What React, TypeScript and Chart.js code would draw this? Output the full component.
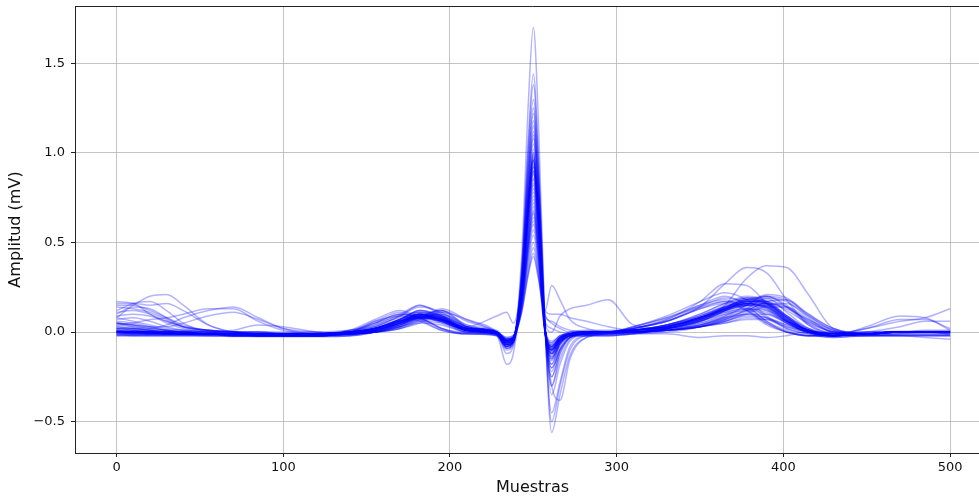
import React, { useEffect, useRef } from "react";
import { Chart, registerables } from "chart.js";

Chart.register(...registerables);

const sampleX = [0, 10, 20, 30, 40, 55, 70, 85, 100, 120, 140, 155, 170, 182, 195, 210, 228, 234, 238, 243, 247, 250, 253, 257, 261, 266, 272, 282, 295, 310, 330, 350, 365, 378, 390, 402, 415, 430, 450, 470, 485, 500];

// Amplitude (mV) of each beat at the sample positions above
const beat01 = [0.05,0.04,0.02,0.01,0.0,-0.01,-0.01,-0.01,-0.01,-0.01, -0.01,0.01,0.05,0.09,0.05,0.0, -0.01,-0.08,-0.05, 0.42,1.28,1.70,1.19, 0.04,-0.45,-0.28,-0.08,-0.02,-0.01, -0.01,0.0,0.03,0.08,0.13,0.11,0.05,0.0,-0.02, -0.01,0.0,0.0,0.0];
const beat02 = [0.0,0.0,-0.01,-0.01,-0.01,-0.01,-0.02,-0.02,-0.02,-0.02, 0.0,0.05,0.10,0.08,0.02,-0.01, -0.02,-0.10,-0.07, 0.36,1.08,1.44,1.0, 0.03,-0.56,-0.35,-0.13,-0.03,-0.01, 0.0,0.02,0.06,0.12,0.18,0.20,0.14,0.04,-0.01, -0.02,-0.01,0.0,-0.01];
const beat03 = [0.12,0.16,0.17,0.12,0.05,0.0,-0.01,-0.01,-0.01,-0.01, -0.01,0.0,0.04,0.09,0.12,0.03, -0.01,-0.06,-0.04, 0.35,1.04,1.38,0.97, 0.03,-0.50,-0.30,-0.10,-0.02,-0.01, 0.0,0.01,0.03,0.07,0.13,0.19,0.17,0.08,0.0, -0.01,0.0,0.0,0.0];
const beat04 = [0.02,0.01,0.0,0.0,-0.01,-0.01,-0.01,-0.02,-0.02,-0.02, -0.01,0.01,0.06,0.10,0.06,0.0, -0.01,-0.12,-0.08, 0.32,0.98,1.30,0.91, 0.03,-0.30,-0.38,-0.15,-0.03,-0.01, 0.0,0.03,0.08,0.14,0.18,0.16,0.08,0.01,-0.02, -0.01,0.0,0.0,0.0];
const beat05 = [0.15,0.15,0.12,0.08,0.04,0.01,0.0,-0.01,-0.01,-0.01, 0.0,0.02,0.07,0.10,0.06,0.01, -0.01,-0.05,-0.03, 0.31,0.92,1.22,0.85, 0.03,-0.30,-0.12,-0.03,0.0,0.0, 0.02,0.06,0.14,0.27,0.36,0.33,0.18,0.04,-0.01, -0.01,0.0,0.0,0.0];
const beat06 = [0.0,0.01,0.0,-0.01,-0.01,-0.01,-0.01,-0.01,-0.02,-0.02, -0.01,0.01,0.05,0.09,0.07,0.01, -0.01,-0.08,-0.05, 0.30,0.89,1.18,0.83, 0.03,-0.25,-0.10,-0.03,-0.01,-0.01, 0.0,0.01,0.04,0.07,0.10,0.10,0.06,0.01,-0.02, 0.03,0.09,0.08,0.01];
const beat07 = [0.08,0.06,0.04,0.02,0.01,0.0,0.0,-0.01,-0.01,-0.01, 0.0,0.05,0.10,0.08,0.02,-0.01, -0.02,-0.18,-0.12, 0.26,0.84,1.12,0.78, 0.02,-0.20,-0.10,-0.03,-0.01,0.0, 0.02,0.06,0.14,0.19,0.16,0.08,0.02,-0.01,-0.02, -0.01,0.0,0.0,-0.01];
const beat08 = [0.01,0.0,0.0,-0.01,-0.01,-0.01,-0.02,-0.02,-0.02,-0.02, -0.01,0.01,0.04,0.08,0.09,0.03, 0.0,-0.04,-0.03, 0.27,0.81,1.08,0.76, 0.02,-0.15,-0.06,-0.02,-0.01,0.0, 0.0,0.02,0.06,0.15,0.30,0.37,0.36,0.21,0.02, -0.01,0.0,0.0,0.0];
const beat09 = [0.10,0.15,0.20,0.21,0.15,0.04,0.0,-0.01,-0.01,-0.01, 0.0,0.03,0.09,0.15,0.10,0.01, -0.01,-0.07,-0.05, 0.26,0.79,1.05,0.74, 0.02,-0.12,-0.05,-0.01,-0.01,0.0, 0.01,0.04,0.09,0.14,0.17,0.17,0.12,0.05,0.0, -0.01,0.0,0.0,0.0];
const beat10 = [0.05,0.03,0.02,0.04,0.08,0.12,0.14,0.08,0.02,-0.01, -0.01,0.01,0.05,0.08,0.06,0.01, -0.01,-0.06,-0.04, 0.25,0.75,1.00,0.70, 0.02,-0.10,-0.04,-0.01,0.0,0.0, 0.0,0.01,0.04,0.09,0.15,0.20,0.15,0.05,-0.01, -0.01,0.0,0.0,0.0];
const beat11 = [0.0,0.0,0.0,0.0,0.0,-0.01,-0.01,-0.01,-0.01,-0.01, -0.01,0.0,0.02,0.06,0.12,0.06, 0.0,-0.05,-0.03, 0.24,0.73,0.98,0.69, 0.02,-0.08,-0.03,-0.01,0.0,0.0, 0.0,0.02,0.04,0.08,0.12,0.16,0.14,0.06,0.0, -0.01,0.0,0.0,0.0];
const beat12 = [0.17,0.16,0.10,0.05,0.02,0.0,-0.01,-0.01,-0.01,-0.01, 0.0,0.01,0.05,0.09,0.07,0.01, -0.01,-0.09,-0.06, 0.24,0.72,0.96,0.67, 0.02,-0.22,-0.09,-0.02,-0.01,0.0, 0.0,0.02,0.06,0.11,0.16,0.16,0.09,0.02,-0.01, -0.01,0.0,0.0,0.0];
const beat13 = [-0.01,-0.01,-0.01,-0.01,-0.01,-0.01,-0.02,-0.02,-0.02,-0.02, 0.0,0.06,0.11,0.07,0.01,-0.01, -0.01,-0.04,-0.03, 0.24,0.71,0.95,0.67, 0.09,0.06,0.03,0.01,0.0,0.0, 0.0,0.01,0.03,0.05,0.08,0.07,0.03,0.0,-0.01, -0.01,0.0,0.0,0.0];
const beat14 = [0.03,0.02,0.01,0.0,0.0,-0.01,-0.01,-0.01,-0.01,-0.01, 0.0,0.02,0.07,0.12,0.08,0.01, -0.01,-0.07,-0.05, 0.23,0.70,0.94,0.66, 0.02,-0.14,-0.06,-0.02,-0.01,0.0, 0.02,0.07,0.17,0.27,0.26,0.16,0.06,0.0,-0.02, -0.01,0.0,0.0,0.0];
const beat15 = [0.04,0.05,0.07,0.08,0.10,0.13,0.13,0.06,0.01,-0.01, -0.01,0.0,0.03,0.08,0.11,0.03, 0.0,-0.05,-0.03, 0.23,0.69,0.92,0.64, 0.02,-0.10,-0.04,-0.01,0.0,0.0, 0.01,0.03,0.08,0.12,0.16,0.18,0.14,0.06,0.0, -0.01,0.0,0.0,0.0];
const beat16 = [0.0,0.0,-0.01,-0.01,-0.01,-0.01,-0.01,-0.02,-0.02,-0.02, -0.01,0.01,0.06,0.10,0.07,0.01, -0.01,-0.06,-0.04, 0.22,0.67,0.90,0.63, 0.02,-0.05,-0.02,-0.01,0.0,0.0, 0.01,0.03,0.08,0.13,0.16,0.13,0.06,0.01,-0.01, 0.02,0.06,0.08,0.13];
const beat17 = [0.09,0.10,0.09,0.06,0.03,0.01,0.0,-0.01,-0.01,-0.01, 0.01,0.04,0.08,0.10,0.09,0.03, -0.01,-0.08,-0.05, 0.22,0.66,0.88,0.62, 0.02,-0.12,-0.05,-0.01,0.0,0.0, 0.03,0.08,0.15,0.18,0.13,0.05,0.0,-0.02,-0.02, -0.01,0.0,0.0,0.0];
const beat18 = [0.0,-0.01,-0.01,-0.01,-0.01,-0.01,-0.02,-0.02,-0.02,-0.02, -0.01,0.0,0.03,0.06,0.05,0.01, -0.01,-0.06,-0.04, 0.21,0.64,0.85,0.60, 0.02,-0.08,-0.03,-0.01,-0.01,-0.01, -0.01,-0.01,-0.03,-0.02,-0.02,-0.03,-0.02,0.0,0.0, 0.0,0.0,0.0,0.0];
const beat19 = [0.02,0.02,0.01,0.0,0.0,-0.01,-0.01,-0.01,-0.01,-0.01, 0.0,0.01,0.04,0.07,0.06,0.03, 0.09,0.11,0.05, 0.25,0.62,0.82,0.58, 0.02,-0.15,-0.06,-0.02,-0.01,0.0, 0.0,0.01,0.03,0.06,0.10,0.14,0.14,0.07,0.0, -0.01,0.0,0.0,0.0];
const beat20 = [0.06,0.05,0.03,0.01,0.0,-0.01,-0.01,-0.01,-0.01,-0.01, 0.0,0.02,0.06,0.09,0.06,0.01, -0.01,-0.05,-0.03, 0.20,0.60,0.80,0.56, 0.02,-0.10,-0.04,-0.01,0.0,0.0, 0.01,0.03,0.08,0.14,0.17,0.15,0.07,0.01,-0.01, 0.02,0.07,0.07,0.02];
const beat21 = [0.0,0.0,0.0,0.0,-0.01,-0.01,-0.01,-0.01,-0.01,-0.01, 0.0,0.04,0.10,0.15,0.09,0.01, 0.0,-0.07,-0.05, 0.19,0.57,0.76,0.53, 0.01,-0.30,-0.15,-0.04,-0.01,0.0, 0.0,0.01,0.03,0.05,0.07,0.07,0.04,0.0,-0.02, -0.01,0.0,0.0,0.0];
const beat22 = [0.14,0.13,0.11,0.07,0.03,0.01,0.0,0.0,-0.01,-0.01, 0.0,0.02,0.07,0.12,0.09,0.02, 0.0,-0.04,-0.03, 0.18,0.54,0.72,0.50, 0.01,-0.06,-0.02,-0.01,0.0,0.0, 0.01,0.04,0.10,0.16,0.20,0.17,0.08,0.01,-0.01, -0.01,0.0,0.0,0.0];
const beat23 = [0.01,0.0,0.0,-0.01,-0.01,-0.01,-0.01,-0.02,-0.02,-0.02, -0.01,0.0,0.02,0.05,0.11,0.07, 0.0,-0.08,-0.05, 0.18,0.53,0.70,0.49, 0.01,-0.18,-0.07,-0.02,-0.01,0.0, 0.02,0.07,0.15,0.20,0.15,0.06,0.01,-0.02,-0.02, -0.01,0.0,0.0,0.0];
const beat24 = [0.07,0.08,0.06,0.03,0.01,0.0,0.01,0.04,0.03,0.0, -0.01,0.01,0.05,0.08,0.06,0.01, -0.01,-0.05,-0.03, 0.17,0.50,0.67,0.47, 0.01,-0.08,-0.03,-0.01,0.0,0.0, 0.01,0.03,0.07,0.11,0.13,0.12,0.06,0.01,-0.02, -0.01,0.0,0.0,0.0];
const beat25 = [0.0,0.0,0.0,-0.01,-0.01,-0.01,-0.01,-0.01,-0.01,-0.02, 0.0,0.06,0.09,0.06,0.01,-0.01, -0.01,-0.06,-0.04, 0.16,0.48,0.64,0.45, 0.01,-0.12,-0.05,-0.01,0.0,0.0, 0.0,0.01,0.03,0.07,0.12,0.17,0.18,0.10,0.02, -0.01,0.0,0.0,0.0];
const beat26 = [0.11,0.12,0.10,0.06,0.03,0.01,0.0,-0.01,-0.01,-0.01, 0.0,0.02,0.06,0.10,0.07,0.02, 0.0,-0.03,-0.02, 0.15,0.45,0.60,0.42, 0.06,0.02,0.0,-0.01,0.0,0.0, 0.02,0.06,0.13,0.16,0.12,0.05,0.0,-0.02,-0.02, -0.01,0.0,0.0,0.0];
const beat27 = [0.02,0.01,0.0,0.0,-0.01,-0.01,-0.01,-0.01,-0.01,-0.01, 0.0,0.01,0.03,0.05,0.04,0.0, -0.01,-0.09,-0.06, 0.14,0.43,0.57,0.40, 0.0,-0.20,-0.10,-0.03,-0.01,0.0, 0.01,0.04,0.08,0.12,0.15,0.16,0.13,0.07,0.01, -0.01,0.0,0.0,0.0];
const beat28 = [0.08,0.14,0.13,0.08,0.03,0.01,0.0,0.0,-0.01,-0.01, 0.0,0.02,0.06,0.09,0.07,0.01, -0.01,-0.05,-0.03, 0.14,0.41,0.54,0.38, 0.0,-0.10,-0.04,-0.01,0.0,0.0, 0.01,0.03,0.08,0.13,0.15,0.12,0.05,0.0,-0.02, -0.01,0.0,0.0,0.0];
const beat29 = [0.0,0.0,-0.01,-0.01,-0.01,-0.01,-0.01,-0.02,-0.02,-0.02, -0.01,0.0,0.03,0.08,0.10,0.03, 0.0,-0.04,-0.03, 0.13,0.38,0.50,0.35, 0.0,-0.08,-0.03,-0.01,0.0,0.0, 0.03,0.08,0.14,0.17,0.12,0.04,0.0,-0.02,-0.02, -0.01,0.0,0.0,0.0];
const beat30 = [0.04,0.03,0.02,0.01,0.0,0.0,-0.01,-0.01,-0.01,-0.01, 0.0,0.02,0.07,0.11,0.08,0.02, 0.0,-0.07,-0.05, 0.12,0.35,0.47,0.33, 0.0,-0.14,-0.06,-0.02,-0.01,0.0, 0.01,0.03,0.08,0.13,0.16,0.14,0.06,0.0,-0.02, -0.02,-0.02,-0.03,-0.04];
const beat31 = [0.0,-0.01,-0.01,-0.01,-0.01,-0.01,-0.01,-0.01,-0.01,-0.01, 0.0,0.03,0.09,0.14,0.11,0.02, 0.0,-0.03,-0.02, 0.11,0.33,0.44,0.31, 0.10,0.05,0.02,0.0,0.0,0.0, 0.0,0.01,0.03,0.06,0.11,0.15,0.16,0.09,0.01, -0.01,0.0,0.0,0.0];
const beat32 = [0.05,0.04,0.03,0.01,0.0,0.0,-0.01,-0.01,-0.01,-0.01, 0.0,0.02,0.05,0.08,0.06,0.01, 0.0,-0.05,-0.03, 0.11,0.32,0.42,0.30, 0.12,0.26,0.18,0.07,0.02,0.0, 0.0,0.02,0.06,0.10,0.12,0.10,0.05,0.0,-0.02, -0.01,0.0,0.0,0.0];
const beat33 = [0.0,0.0,0.0,-0.01,-0.01,-0.01,-0.01,-0.01,-0.01,-0.01, 0.0,0.02,0.06,0.10,0.08,0.02, 0.0,-0.04,-0.03, 0.16,0.47,0.62,0.43, 0.05,0.0,0.09,0.13,0.15,0.18, 0.04,0.02,0.04,0.08,0.10,0.08,0.03,0.0,-0.02, -0.01,0.0,0.0,0.0];
const beat34 = [0.0,0.0,0.0,0.0,-0.01,-0.01,-0.01,-0.01,-0.01,-0.01, 0.0,0.01,0.05,0.09,0.08,0.02, 0.0,-0.04,-0.03, 0.24,0.73,0.97,0.68, 0.12,0.10,0.10,0.08,0.06,0.03, 0.01,0.02,0.06,0.12,0.17,0.16,0.09,0.02,-0.01, -0.01,0.0,0.0,0.0];
const beat35 = [0.03,0.02,0.01,0.0,0.0,-0.01,-0.01,-0.01,-0.01,-0.01, 0.01,0.07,0.12,0.08,0.02,0.0, 0.0,-0.06,-0.04, 0.25,0.75,1.00,0.70, 0.02,-0.09,-0.04,-0.01,0.0,0.0, 0.03,0.09,0.17,0.22,0.18,0.09,0.02,-0.01,-0.02, -0.01,0.0,0.0,0.0];
const beat36 = [-0.01,-0.01,-0.01,-0.01,-0.01,-0.01,-0.01,-0.02,-0.02,-0.02, -0.01,0.0,0.04,0.08,0.07,0.02, 0.0,-0.05,-0.03, 0.23,0.70,0.93,0.65, 0.02,-0.07,-0.03,-0.01,0.0,0.0, 0.01,0.04,0.09,0.14,0.16,0.13,0.05,0.0,-0.02, -0.01,0.0,0.0,0.0];
const beat37 = [0.01,0.0,0.0,-0.01,-0.01,-0.01,-0.01,-0.01,-0.02,-0.02, -0.01,0.0,0.02,0.07,0.13,0.07, 0.0,-0.05,-0.03, 0.24,0.72,0.96,0.67, 0.02,-0.11,-0.04,-0.01,0.0,0.0, 0.01,0.03,0.07,0.12,0.17,0.20,0.18,0.10,0.02, -0.01,0.0,0.0,0.0];
const beat38 = [0.16,0.16,0.15,0.16,0.12,0.04,0.0,-0.01,-0.01,-0.01, 0.0,0.02,0.07,0.12,0.09,0.02, -0.01,-0.07,-0.05, 0.31,0.94,1.25,0.87, 0.03,-0.35,-0.18,-0.05,-0.01,0.0, 0.0,0.02,0.07,0.13,0.19,0.19,0.11,0.02,-0.02, -0.01,0.0,0.0,0.0];
const beat39 = [0.0,0.0,0.0,0.0,-0.01,-0.01,-0.02,-0.02,-0.02,-0.02, 0.01,0.05,0.09,0.11,0.09,0.03, -0.01,-0.09,-0.06, 0.29,0.86,1.15,0.80, 0.02,-0.18,-0.07,-0.02,-0.01,0.0, 0.0,0.02,0.05,0.09,0.15,0.21,0.19,0.09,0.01, -0.01,0.0,0.0,0.0];
const beat40 = [0.05,0.04,0.03,0.03,0.05,0.09,0.11,0.07,0.02,0.0, -0.01,0.01,0.05,0.08,0.07,0.02, 0.0,-0.05,-0.03, 0.20,0.58,0.78,0.55, 0.01,-0.09,-0.04,-0.01,0.0,0.0, 0.01,0.03,0.07,0.12,0.15,0.14,0.07,0.01,-0.02, 0.0,0.03,0.06,0.06];
const beat41 = [0.0,-0.01,-0.01,-0.01,-0.01,-0.01,-0.01,-0.01,-0.01,-0.01, -0.01,0.0,0.04,0.09,0.12,0.04, 0.0,-0.08,-0.05, 0.17,0.51,0.68,0.48, 0.01,-0.25,-0.12,-0.03,-0.01,0.0, 0.0,0.01,0.03,0.06,0.09,0.08,0.04,0.0,-0.02, -0.01,0.0,0.0,0.0];
const beat42 = [0.02,0.02,0.01,0.0,0.0,-0.01,-0.01,-0.01,-0.01,-0.01, 0.0,0.02,0.06,0.09,0.07,0.02, 0.0,-0.04,-0.03, 0.22,0.67,0.90,0.63, 0.02,-0.06,-0.02,-0.01,0.0,0.0, 0.01,0.03,0.08,0.14,0.18,0.16,0.08,0.01,-0.01, -0.01,0.0,0.0,0.0];
const beat43 = [-0.02,-0.02,-0.02,-0.02,-0.02,-0.02,-0.02,-0.02,-0.02,-0.02, -0.02,0.0,0.05,0.09,0.06,0.0, -0.02,-0.06,-0.04, 0.22,0.69,0.92,0.64, 0.01,-0.08,-0.04,-0.02,-0.02,-0.02, -0.01,0.02,0.07,0.13,0.16,0.14,0.06,-0.01,-0.03, -0.02,-0.02,-0.02,-0.02];
const beat44 = [0.01,0.01,0.01,0.01,0.01,0.01,0.0,0.0,0.0,0.0, 0.01,0.03,0.07,0.10,0.07,0.02, 0.01,-0.05,-0.03, 0.25,0.74,0.99,0.69, 0.02,-0.09,-0.03,0.0,0.01,0.01, 0.01,0.04,0.09,0.15,0.19,0.17,0.08,0.01,-0.01, 0.0,0.0,0.01,0.01];
const beat45 = [-0.01,-0.015,-0.015,-0.015,-0.015,-0.02,-0.02,-0.02,-0.02,-0.02, -0.015,0.01,0.05,0.08,0.07,0.01, -0.01,-0.07,-0.04, 0.21,0.64,0.86,0.60, 0.01,-0.11,-0.05,-0.02,-0.015,-0.01, 0.0,0.03,0.08,0.13,0.17,0.15,0.07,0.0,-0.02, -0.015,-0.015,-0.015,-0.015];
const beat46 = [0.0,-0.005,-0.005,-0.005,-0.01,-0.01,-0.01,-0.01,-0.01,-0.01, -0.005,0.02,0.06,0.10,0.08,0.01, -0.005,-0.07,-0.05, 0.28,0.82,1.10,0.77, 0.02,-0.16,-0.07,-0.02,-0.01,-0.005, 0.0,0.02,0.07,0.13,0.18,0.17,0.09,0.01,-0.02, -0.01,-0.005,-0.005,-0.005];
const beat47 = [-0.015,-0.02,-0.02,-0.02,-0.02,-0.02,-0.025,-0.025,-0.025,-0.025, -0.02,0.0,0.04,0.08,0.08,0.02, -0.015,-0.06,-0.04, 0.18,0.55,0.74,0.52, 0.0,-0.10,-0.05,-0.02,-0.02,-0.02, -0.01,0.01,0.05,0.10,0.15,0.15,0.08,0.0,-0.02, -0.02,-0.02,-0.02,-0.02];
const beat48 = [0.0,0.0,0.0,0.0,0.0,0.0,-0.005,-0.005,-0.01,-0.01, -0.005,0.02,0.07,0.11,0.08,0.02, 0.0,-0.05,-0.03, 0.24,0.72,0.96,0.67, 0.02,-0.07,-0.03,-0.01,0.0,0.0, 0.01,0.04,0.10,0.16,0.19,0.16,0.07,0.01,-0.01, -0.005,0.0,0.0,0.0];
const beat49 = [-0.01,-0.01,-0.01,-0.01,-0.01,-0.015,-0.015,-0.015,-0.015,-0.015, -0.01,0.0,0.03,0.07,0.10,0.04, -0.01,-0.06,-0.04, 0.21,0.62,0.83,0.58, 0.01,-0.12,-0.05,-0.02,-0.01,-0.01, 0.02,0.06,0.13,0.17,0.14,0.06,0.0,-0.02,-0.02, -0.015,-0.01,-0.01,-0.01];
const beat50 = [-0.02,-0.02,-0.02,-0.02,-0.02,-0.02,-0.02,-0.025,-0.025,-0.025, -0.02,0.0,0.05,0.10,0.08,0.01, -0.02,-0.08,-0.05, 0.25,0.76,1.02,0.71, 0.01,-0.13,-0.06,-0.03,-0.02,-0.02, -0.01,0.02,0.06,0.12,0.17,0.17,0.09,0.0,-0.03, -0.02,-0.02,-0.02,-0.02];
const beat51 = [0.005,0.005,0.005,0.005,0.0,0.0,0.0,0.0,-0.005,-0.005, 0.0,0.02,0.06,0.09,0.07,0.02, 0.005,-0.05,-0.03, 0.16,0.49,0.66,0.46, 0.01,-0.09,-0.03,0.0,0.005,0.005, 0.01,0.03,0.08,0.13,0.16,0.14,0.06,0.01,-0.01, 0.0,0.005,0.005,0.005];
const beat52 = [-0.015,-0.015,-0.015,-0.015,-0.015,-0.015,-0.02,-0.02,-0.02,-0.02, -0.015,0.01,0.06,0.10,0.07,0.01, -0.015,-0.07,-0.05, 0.22,0.66,0.89,0.62, 0.01,-0.10,-0.05,-0.02,-0.015,-0.015, -0.005,0.02,0.07,0.13,0.18,0.16,0.07,0.0,-0.02, -0.015,-0.015,-0.015,-0.015];

const beats = [
  beat01, beat02, beat03, beat04, beat05, beat06, beat07, beat08, beat09, beat10,
  beat11, beat12, beat13, beat14, beat15, beat16, beat17, beat18, beat19, beat20,
  beat21, beat22, beat23, beat24, beat25, beat26, beat27, beat28, beat29, beat30,
  beat31, beat32, beat33, beat34, beat35, beat36, beat37, beat38, beat39, beat40,
  beat41, beat42, beat43, beat44, beat45, beat46, beat47, beat48, beat49, beat50,
  beat51, beat52,
];

const xAxisTitle = "Muestras";
const yAxisTitle = "Amplitud (mV)";

const FONT = "'DejaVu Sans', sans-serif";

const framePlugin = {
  id: "topFrame",
  afterDraw(chart: any) {
    const { ctx, chartArea } = chart;
    ctx.save();
    ctx.strokeStyle = "#222";
    ctx.lineWidth = 1;
    ctx.beginPath();
    ctx.moveTo(chartArea.left, Math.round(chartArea.top) + 0.5);
    ctx.lineTo(chartArea.right, Math.round(chartArea.top) + 0.5);
    ctx.stroke();
    ctx.restore();
  },
};

export default function App() {
  const canvasRef = useRef<HTMLCanvasElement | null>(null);

  useEffect(() => {
    document.body.style.margin = "0";
    const canvas = canvasRef.current;
    if (!canvas) return;
    const datasets = beats.map((beat, k) => ({
      label: "beat" + (k + 1),
      data: sampleX.map((x, i) => ({ x, y: beat[i] })),
      borderColor: "rgba(0,0,255,0.3)",
      borderWidth: 1.5,
      pointRadius: 0,
      fill: false,
      cubicInterpolationMode: "monotone" as const,
    }));
    const chart = new Chart(canvas, {
      type: "line",
      data: { datasets },
      options: {
        animation: false,
        responsive: false,
        events: [],
        layout: { padding: { top: 6, right: 0, left: 0, bottom: 0 } },
        plugins: {
          legend: { display: false },
          tooltip: { enabled: false },
        },
        scales: {
          x: {
            type: "linear",
            min: -24.95,
            max: 523.95,
            afterFit: (s: any) => {
              s.height = 44;
              s.paddingLeft = 0;
              s.paddingRight = 0;
            },
            ticks: {
              stepSize: 100,
              includeBounds: false,
              color: "#111",
              padding: 3,
              font: { family: FONT, size: 13 },
              callback: (v: any) => String(v),
            },
            grid: {
              color: "rgba(176,176,176,0.75)",
              lineWidth: 1,
              tickColor: "#222",
              tickLength: 4,
            },
            border: { color: "#222", width: 1 },
            title: {
              display: true,
              text: xAxisTitle,
              color: "#111",
              font: { family: FONT, size: 16 },
              padding: { top: 0, bottom: 0 },
            },
          },
          y: {
            type: "linear",
            min: -0.675,
            max: 1.82,
            afterFit: (s: any) => {
              s.width = 75;
              s.paddingTop = 0;
              s.paddingBottom = 0;
            },
            ticks: {
              stepSize: 0.5,
              includeBounds: false,
              color: "#111",
              padding: 6,
              font: { family: FONT, size: 13 },
              callback: (v: any) => Number(v).toFixed(1).replace("-", "\u2212"),
            },
            grid: {
              color: "rgba(176,176,176,0.75)",
              lineWidth: 1,
              tickColor: "#222",
              tickLength: 4,
            },
            border: { color: "#222", width: 1 },
            title: {
              display: true,
              text: yAxisTitle,
              color: "#111",
              font: { family: FONT, size: 16 },
              padding: { top: 6, bottom: 0 },
            },
          },
        },
      },
      plugins: [framePlugin],
    });
    return () => chart.destroy();
  }, []);

  return (
    <div style={{ width: 979, height: 497, overflow: "hidden", position: "relative" }}>
      <canvas ref={canvasRef} width={990} height={497} style={{ display: "block" }} />
    </div>
  );
}
